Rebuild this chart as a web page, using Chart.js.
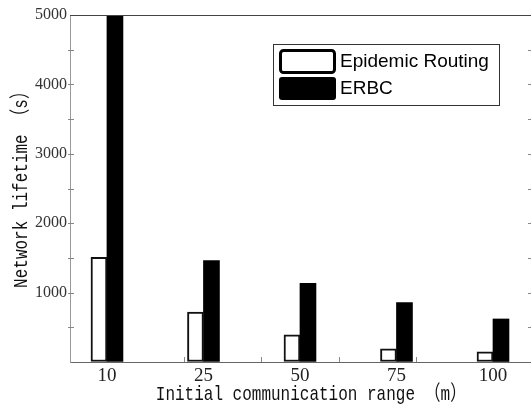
<!DOCTYPE html>
<html>
<head>
<meta charset="utf-8">
<script src="https://cdn.jsdelivr.net/npm/chart.js@4"></script>
<style>
  body { margin: 0; background: #fff; }
  #wrap { width: 531px; height: 407px; }
</style>
</head>
<body>
<div id="wrap"><canvas id="lifetimeChart" width="531" height="407"></canvas></div>
<script>
// Dane wykresu
const categories = ['10', '25', '50', '75', '100'];
const epidemicValues = [1510, 720, 390, 190, 145];
const erbcValues = [5000, 1460, 1135, 855, 620];
const seriesNames = ['Epidemic Routing', 'ERBC'];
const yTickValues = [0, 1000, 2000, 3000, 4000, 5000];
const xTitle = 'Initial communication range （m）';
const yTitle = 'Network lifetime （s）';

// Punkty na osi liniowej (pozycje kategorii 1..n)
function toPoints(values) {
  return values.map((v, i) => ({ x: i + 1, y: v }));
}

const titleFont = '16px "Liberation Mono", "Noto Sans CJK SC", monospace';

// Drobne elementy ramki, tytuły osi i legenda
const framePlugin = {
  id: 'frame',
  afterDraw(chart) {
    const { ctx, chartArea: a, scales: { x, y } } = chart;
    ctx.save();

    // górna linia ramki
    ctx.strokeStyle = '#444';
    ctx.lineWidth = 1;
    ctx.beginPath();
    ctx.moveTo(a.left, a.top + 0.5);
    ctx.lineTo(a.right, a.top + 0.5);
    ctx.stroke();

    // znaczniki osi Y do środka
    ctx.strokeStyle = '#888';
    for (let v = 500; v < 5000; v += 500) {
      const py = Math.round(y.getPixelForValue(v)) + 0.5;
      ctx.beginPath();
      ctx.moveTo(a.left - 2, py);
      ctx.lineTo(a.left + 4, py);
      ctx.moveTo(a.right - 3, py);
      ctx.lineTo(a.right, py);
      ctx.stroke();
    }

    // znaczniki osi X
    for (let v = 1.8; v < 4.5; v += 0.8) {
      const px = Math.round(x.getPixelForValue(v)) + 0.5;
      ctx.beginPath();
      ctx.moveTo(px, a.bottom);
      ctx.lineTo(px, a.bottom - 5);
      ctx.stroke();
    }

    // tytuły osi (wąskie, wysokie znaki)
    ctx.fillStyle = '#111';
    ctx.font = titleFont;
    ctx.textAlign = 'center';
    ctx.textBaseline = 'alphabetic';

    ctx.save();
    ctx.translate(311, 400);
    ctx.scale(1, 1.3);
    ctx.fillText(xTitle, 0, 0);
    ctx.restore();

    ctx.save();
    ctx.translate(27, (a.top + a.bottom) / 2 - 3);
    ctx.rotate(-Math.PI / 2);
    ctx.scale(1, 1.3);
    ctx.fillText(yTitle, 0, 0);
    ctx.restore();

    // legenda
    ctx.textAlign = 'left';
    ctx.fillStyle = '#fff';
    ctx.fillRect(273, 44, 226, 61);
    ctx.strokeStyle = '#333';
    ctx.lineWidth = 1;
    ctx.strokeRect(273.5, 44.5, 226, 61);

    ctx.strokeStyle = '#000';
    ctx.lineWidth = 3;
    ctx.beginPath();
    ctx.roundRect(280.5, 50.5, 54, 22, 3);
    ctx.fillStyle = '#fff';
    ctx.fill();
    ctx.stroke();

    ctx.fillStyle = '#000';
    ctx.beginPath();
    ctx.roundRect(279, 77, 57, 23, 3);
    ctx.fill();

    ctx.font = '19px "Liberation Sans", Arial, sans-serif';
    ctx.textBaseline = 'middle';
    ctx.fillText(seriesNames[0], 340, 62);
    ctx.fillText(seriesNames[1], 340, 89);

    ctx.restore();
  }
};

function initLifetimeChart() {
  const canvas = document.getElementById('lifetimeChart');
  if (!canvas) return;

  new Chart(canvas, {
    type: 'bar',
    data: {
      datasets: [{
        label: seriesNames[0],
        data: toPoints(epidemicValues),
        backgroundColor: '#fff',
        borderColor: '#111',
        borderWidth: 2,
        borderSkipped: false,
        barThickness: 16
      }, {
        label: seriesNames[1],
        data: toPoints(erbcValues),
        backgroundColor: '#000',
        borderWidth: 0,
        barThickness: 16
      }]
    },
    options: {
      responsive: false,
      animation: false,
      layout: { padding: { top: 15, right: 0, left: 0, bottom: 0 } },
      plugins: {
        legend: { display: false },
        tooltip: { enabled: false }
      },
      scales: {
        x: {
          type: 'linear',
          offset: false,
          min: 0.617,
          max: 5.394,
          afterBuildTicks: s => { s.ticks = categories.map((c, i) => ({ value: i + 1 })); },
          afterFit: s => { s.height = 45; },
          grid: { drawOnChartArea: false, drawTicks: false, offset: false },
          border: { color: '#666', width: 1 },
          ticks: {
            padding: 3,
            color: '#222',
            font: { family: '"Liberation Serif", serif', size: 19 },
            callback: v => categories[Math.round(v) - 1]
          }
        },
        y: {
          min: 0,
          max: 5000,
          afterBuildTicks: s => { s.ticks = yTickValues.map(v => ({ value: v })); },
          afterFit: s => { s.width = 70; },
          grid: { drawOnChartArea: false, drawTicks: false },
          border: { color: '#999', width: 1 },
          ticks: {
            padding: 3,
            color: '#333',
            font: { family: '"Liberation Serif", serif', size: 16 },
            callback: v => (v === 0 ? '' : String(v))
          }
        }
      }
    },
    plugins: [framePlugin]
  });
}

document.addEventListener('DOMContentLoaded', initLifetimeChart);
</script>
</body>
</html>
